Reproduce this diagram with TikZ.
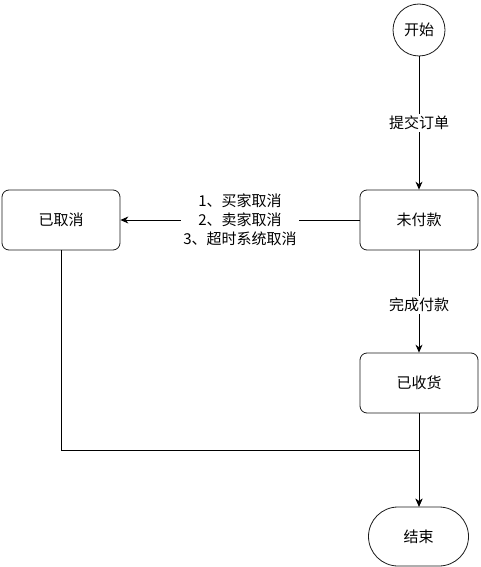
\documentclass[tikz,border=0pt]{standalone}
\usepackage{fontspec}
\setmainfont{Noto Sans CJK SC}
\usetikzlibrary{arrows.meta}
\definecolor{strokeblack}{HTML}{000000}
\definecolor{boxborder}{HTML}{1a1a1a}

\begin{document}
\begin{tikzpicture}[x=1pt,y=-1pt,>={Stealth[length=8pt,width=7pt]},
    state/.style={draw=boxborder,line width=0.8pt,rounded corners=7pt,
        minimum width=118pt,minimum height=60pt,inner sep=0pt,
        font=\fontsize{15}{17}\selectfont},
    flow/.style={->,strokeblack,line width=0.8pt},
    lbl/.style={fill=white,inner sep=2pt,align=center,
        font=\fontsize{15}{19}\selectfont}]
\useasboundingbox (0,0) rectangle (480,567);

% Start
\node[draw=boxborder,line width=0.8pt,circle,minimum size=52pt,inner sep=0pt,
    font=\fontsize{15}{17}\selectfont] (start) at (419,30) {开始};

% States
\node[state] (unpaid) at (419,220) {未付款};
\node[state] (cancelled) at (61,220) {已取消};
\node[state] (received) at (419,383) {已收货};

% End
\node[draw=boxborder,line width=0.8pt,rounded corners=29.5pt,minimum width=100pt,
    minimum height=59pt,inner sep=0pt,font=\fontsize{15}{17}\selectfont] (finish) at (418.5,536.5) {结束};

% Transitions
\draw[flow] (start) -- node[lbl] {提交订单} (unpaid);
\draw[flow] (unpaid) -- node[lbl] {1、买家取消\\2、卖家取消\\3、超时系统取消} (cancelled);
\draw[flow] (unpaid) -- node[lbl,pos=0.53] {完成付款} (received);
\draw[flow] (received) -- (received |- finish.north);
\coordinate (merge) at (419,450);
\draw[flow] (cancelled.south) |- (merge) -- (merge |- finish.north);
\end{tikzpicture}
\end{document}
